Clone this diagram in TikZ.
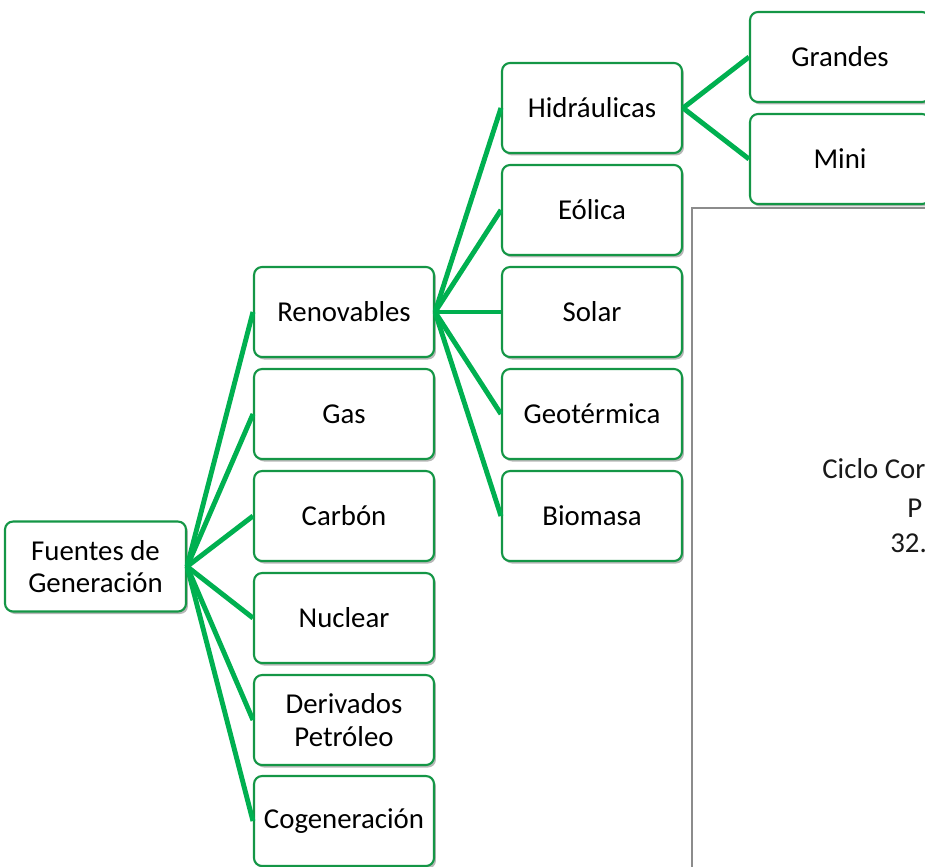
\documentclass[tikz,border=0pt]{standalone}
\usepackage{fontspec}
\setmainfont{Carlito}
\usetikzlibrary{shadows}

\definecolor{linegreen}{RGB}{0,176,80}
\definecolor{edgegreen}{RGB}{20,150,70}

\tikzset{
  fuente/.style={draw=edgegreen, line width=1.2pt, fill=white, rounded corners=0.16cm,
    minimum width=3.6cm, minimum height=1.8cm, align=center,
    font=\fontsize{16.4}{18.5}\selectfont,
    drop shadow={shadow xshift=0.04cm, shadow yshift=-0.05cm, opacity=0.4, fill=black!70}},
  rama/.style={line width=2.8pt, linegreen},
  nota/.style={anchor=base west, inner sep=0pt, font=\fontsize{16.4}{18.5}\selectfont, black!90}
}

\begin{document}
\begin{tikzpicture}[x=0.02cm, y=-0.02cm]
\useasboundingbox (0,0) rectangle (925,866);
\clip (0,0) rectangle (925,866);

\coordinate (F) at (95.5, 566.5);
\coordinate (N1) at (344, 312);
\coordinate (N2) at (592, 108);
\coordinate (N3) at (840, 57);

% cuadro gris de la derecha
\draw[gray!90, line width=0.6pt, fill=white] (692, 208) rectangle (940, 880);
\node[nota] (ciclo) at (822, 478) {Ciclo Cor};
\node[nota] (pot) at (907, 517) {P};
\node[nota] (pct) at (890, 552) {32.};

\node[fuente, minimum width=3.62cm] (fuentes) at (F) {Fuentes de\\Generación};

\node[fuente] (renov) at (N1) {Renovables};
\node[fuente] (gas) at (344, 414) {Gas};
\node[fuente] (carbon) at (344, 516) {Carbón};
\node[fuente] (nuclear) at (344, 618) {Nuclear};
\node[fuente] (deriv) at (344, 720) {Derivados\\Petróleo};
\node[fuente] (cogen) at (344, 821) {Cogeneración};

\node[fuente] (hidra) at (N2) {Hidráulicas};
\node[fuente] (eolica) at (592, 210) {Eólica};
\node[fuente] (solar) at (592, 312) {Solar};
\node[fuente] (geot) at (592, 414) {Geotérmica};
\node[fuente] (biomasa) at (592, 516) {Biomasa};

\node[fuente] (grandes) at (N3) {Grandes};
\node[fuente] (mini) at (840, 159) {Mini};

\draw[rama] (fuentes.east) -- (renov.west);
\draw[rama] (fuentes.east) -- (gas.west);
\draw[rama] (fuentes.east) -- (carbon.west);
\draw[rama] (fuentes.east) -- (nuclear.west);
\draw[rama] (fuentes.east) -- (deriv.west);
\draw[rama] (fuentes.east) -- (cogen.west);

\draw[rama] (renov.east) -- (hidra.west);
\draw[rama] (renov.east) -- (eolica.west);
\draw[rama] (renov.east) -- (solar.west);
\draw[rama] (renov.east) -- (geot.west);
\draw[rama] (renov.east) -- (biomasa.west);

\draw[rama] (hidra.east) -- (grandes.west);
\draw[rama] (hidra.east) -- (mini.west);
\end{tikzpicture}
\end{document}
